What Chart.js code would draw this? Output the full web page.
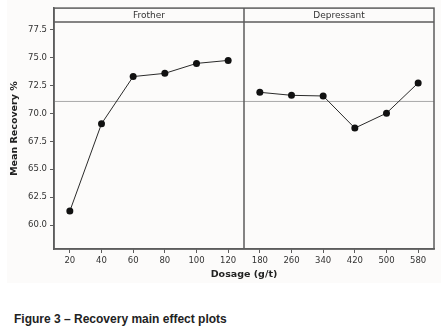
<!DOCTYPE html>
<html>
<head>
<meta charset="utf-8">
<script src="https://cdn.jsdelivr.net/npm/chart.js@4"></script>
<style>
  body { margin: 0; background: #fff; }
  #wrap { position: relative; width: 441px; height: 335px; }
  #bg { position: absolute; left: 7px; top: 0; width: 434px; height: 283px; background: #fcfbfa; }
  #chart { position: absolute; left: 0; top: 0; }
  #caption {
    position: absolute; left: 14px; top: 312px;
    font: bold 12px "Liberation Sans", Arial, sans-serif; line-height: 14px; color: #222;
  }
</style>
</head>
<body>
<div id="wrap">
  <div id="bg"></div>
  <canvas id="chart" width="441" height="290"></canvas>
  <div id="caption">Figure 3 – Recovery main effect plots</div>
</div>
<script>
var frotherDose = ["20", "40", "60", "80", "100", "120"];
var depressantDose = ["180", "260", "340", "420", "500", "580"];
var frotherRecovery = [61.25, 69.08, 73.31, 73.6, 74.49, 74.76];
var depressantRecovery = [71.9, 71.63, 71.57, 68.69, 70.03, 72.74];
var panelNames = ["Frother", "Depressant"];
var grandMean = 71.08;
var yTicks = [60.0, 62.5, 65.0, 67.5, 70.0, 72.5, 75.0, 77.5];

var gaps = frotherDose.map(function () { return null; });
var labels = frotherDose.concat(depressantDose);
var frotherData = frotherRecovery.concat(gaps);
var depressantData = gaps.concat(depressantRecovery);

var frameColor = "#5c5c5c";

// panels, header strip and the grand mean line
var panelPlugin = {
    id: "panels",
    beforeDatasetsDraw: function (chart) {
        var ctx = chart.ctx, a = chart.chartArea;
        var y = chart.scales.y.getPixelForValue(grandMean);
        ctx.save();
        ctx.strokeStyle = "#a8a8a8";
        ctx.lineWidth = 1;
        ctx.beginPath();
        ctx.moveTo(a.left, y);
        ctx.lineTo(a.right, y);
        ctx.stroke();
        ctx.restore();
    },
    afterDatasetsDraw: function (chart) {
        var ctx = chart.ctx, a = chart.chartArea, x = chart.scales.x;
        var split = (x.getPixelForValue(5) + x.getPixelForValue(6)) / 2;
        var stripBottom = a.top + 14;
        ctx.save();
        ctx.strokeStyle = frameColor;
        ctx.lineWidth = 1.5;
        ctx.strokeRect(a.left, a.top, a.right - a.left, a.bottom - a.top);
        ctx.beginPath();
        ctx.moveTo(a.left, stripBottom);
        ctx.lineTo(a.right, stripBottom);
        ctx.moveTo(split, a.top);
        ctx.lineTo(split, a.bottom);
        ctx.stroke();
        ctx.fillStyle = "#333";
        ctx.font = "9px 'DejaVu Sans'";
        ctx.textAlign = "center";
        ctx.textBaseline = "middle";
        ctx.fillText(panelNames[0], (a.left + split) / 2, (a.top + stripBottom) / 2 + 0.5);
        ctx.fillText(panelNames[1], (split + a.right) / 2, (a.top + stripBottom) / 2 + 0.5);
        ctx.restore();
    }
};

var ctx = document.getElementById("chart").getContext("2d");
var chart = new Chart(ctx, {
    type: "line",
    data: {
        labels: labels,
        datasets: [{
            data: frotherData,
            borderColor: "#2a2a2a",
            borderWidth: 1,
            backgroundColor: "#111",
            pointRadius: 3.5,
            pointBorderWidth: 0,
            spanGaps: false
        }, {
            data: depressantData,
            borderColor: "#2a2a2a",
            borderWidth: 1,
            backgroundColor: "#111",
            pointRadius: 3.5,
            pointBorderWidth: 0,
            spanGaps: false
        }]
    },
    options: {
        responsive: false,
        animation: false,
        layout: { padding: { left: 0, right: 7, top: 7, bottom: 0 } },
        plugins: { legend: { display: false }, tooltip: { enabled: false } },
        scales: {
            x: {
                offset: true,
                grid: { drawOnChartArea: false, drawTicks: true, tickLength: 4, color: frameColor, offset: false },
                border: { display: true, color: frameColor, width: 1.5 },
                ticks: { color: "#333", font: { family: "DejaVu Sans", size: 8.5 }, padding: 3, maxRotation: 0, autoSkip: false },
                title: {
                    display: true, text: "Dosage (g/t)", color: "#222",
                    font: { family: "DejaVu Sans", size: 9.5, weight: "bold" },
                    padding: { top: 0, bottom: 10 }
                },
                afterFit: function (s) { s.height = 41; }
            },
            y: {
                min: 57.85,
                max: 79.45,
                afterBuildTicks: function (s) {
                    s.ticks = yTicks.map(function (v) { return { value: v }; });
                },
                grid: { drawOnChartArea: false, drawTicks: true, tickLength: 4, color: frameColor },
                border: { display: true, color: frameColor, width: 1.5 },
                ticks: {
                    color: "#333", font: { family: "DejaVu Sans", size: 8.5 }, padding: 3,
                    callback: function (v) { return v.toFixed(1); }
                },
                title: {
                    display: true, text: "Mean Recovery %", color: "#222",
                    font: { family: "DejaVu Sans", size: 9.5, weight: "bold" },
                    padding: { top: 9, bottom: 0 }
                },
                afterFit: function (s) { s.width = 54; }
            }
        }
    },
    plugins: [panelPlugin]
});
</script>
</body>
</html>
